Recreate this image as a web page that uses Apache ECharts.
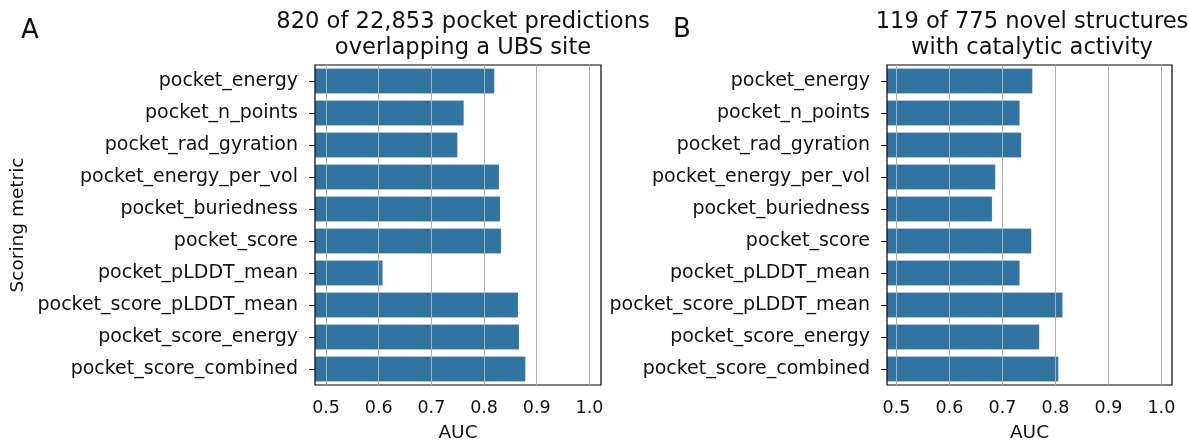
<!DOCTYPE html>
<html>
  <head>
    <title></title>
    <meta charset="UTF-8" />
    <script src="https://cdn.jsdelivr.net/npm/echarts@6/dist/echarts.min.js"></script>
  </head>
  <body style="margin:0">
    <div id="main"></div>
    <script>
      const width = 1189;
      const height = 442;
      const main = document.getElementById('main');
      main.style.width = `${width}px`;
      main.style.height = `${height}px`;

      const metrics = [
        'pocket_energy',
        'pocket_n_points',
        'pocket_rad_gyration',
        'pocket_energy_per_vol',
        'pocket_buriedness',
        'pocket_score',
        'pocket_pLDDT_mean',
        'pocket_score_pLDDT_mean',
        'pocket_score_energy',
        'pocket_score_combined',
      ];
      // AUC per metric, panel A (UBS overlap) and panel B (catalytic activity)
      const ubsAuc = [0.820, 0.762, 0.750, 0.829, 0.831, 0.833, 0.608, 0.865, 0.867, 0.879];
      const catalyticAuc = [0.757, 0.733, 0.736, 0.687, 0.681, 0.755, 0.733, 0.814, 0.770, 0.806];
      const aucTicks = [0.5, 0.6, 0.7, 0.8, 0.9, 1.0];
      const panelTitles = [
        '820 of 22,853 pocket predictions\noverlapping a UBS site',
        '119 of 775 novel structures\nwith catalytic activity',
      ];

      const font = 'DejaVu Sans';
      const ink = '#111';
      const barColor = '#3274a1';

      const grids = [
        { left: 315, top: 65, width: 286, height: 320 },
        { left: 887, top: 65, width: 285, height: 320 },
      ];
      const xRanges = [
        [0.479, 1.022],
        [0.482, 1.020],
      ];
      const titleCenters = [458, 1027];

      const xAxes = grids.map((g, i) => ({
        type: 'value',
        gridIndex: i,
        min: xRanges[i][0],
        max: xRanges[i][1],
        name: 'AUC',
        nameLocation: 'middle',
        nameGap: 39,
        nameTextStyle: { fontSize: 18.5, color: ink, fontFamily: font },
        axisLine: { show: false },
        axisTick: { show: false, customValues: aucTicks },
        axisLabel: {
          customValues: aucTicks,
          fontSize: 17.5,
          color: ink,
          fontFamily: font,
          margin: 14,
          formatter: (v) => v.toFixed(1),
        },
        splitLine: {
          show: true,
          lineStyle: { color: '#b0b0b0', width: 1 },
        },
      }));

      const yAxes = grids.map((g, i) => ({
        type: 'category',
        gridIndex: i,
        data: metrics,
        inverse: true,
        name: i === 0 ? 'Scoring metric' : '',
        nameLocation: 'middle',
        nameGap: 287,
        nameTextStyle: { fontSize: 18.5, color: ink, fontFamily: font },
        axisLine: { show: false },
        axisTick: {
          show: true,
          alignWithLabel: true,
          length: 6,
          lineStyle: { color: '#000', width: 1 },
        },
        axisLabel: {
          fontSize: 19,
          color: ink,
          fontFamily: font,
          margin: 17,
        },
        splitLine: { show: false },
      }));

      const series = [ubsAuc, catalyticAuc].map((vals, i) => ({
        type: 'bar',
        xAxisIndex: i,
        yAxisIndex: i,
        data: vals,
        barCategoryGap: '20%',
        z: -1,
        itemStyle: {
          color: barColor,
          borderColor: 'rgba(255,255,255,0.35)',
          borderWidth: 0.6,
        },
      }));

      const titles = panelTitles.map((t, i) => ({
        text: t,
        left: titleCenters[i],
        top: 4,
        textAlign: 'center',
        textStyle: {
          fontSize: 22.6,
          fontWeight: 'normal',
          color: ink,
          fontFamily: font,
          lineHeight: 26,
        },
      }));
      titles.push(
        {
          text: 'A',
          left: 16,
          top: 13,
          textStyle: { fontSize: 26, fontWeight: 'normal', color: ink, fontFamily: font },
        },
        {
          text: 'B',
          left: 668,
          top: 12,
          textStyle: { fontSize: 26, fontWeight: 'normal', color: ink, fontFamily: font },
        }
      );

      const myChart = echarts.init(main, null, { renderer: 'canvas' });
      myChart.setOption({
        animation: false,
        backgroundColor: '#fff',
        textStyle: { fontFamily: font },
        title: titles,
        grid: grids.map((g) => ({
          ...g,
          show: true,
          borderColor: '#000',
          borderWidth: 1.2,
          backgroundColor: 'transparent',
          containLabel: false,
          outerBoundsMode: 'none',
        })),
        xAxis: xAxes,
        yAxis: yAxes,
        series,
      });
    </script>
  </body>
</html>
